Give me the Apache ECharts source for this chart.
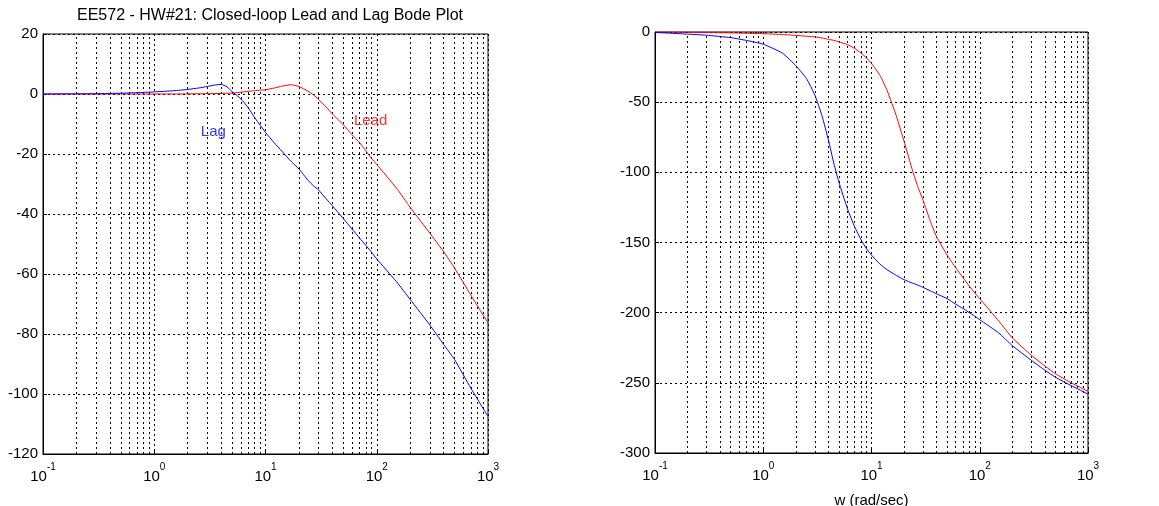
<!DOCTYPE html>
<html>
<head>
<meta charset="utf-8">
<script src="https://cdn.jsdelivr.net/npm/echarts@6/dist/echarts.min.js"></script>
<style>
  html, body { margin: 0; padding: 0; background: #fff; }
  #main { width: 1159px; height: 506px; }
</style>
</head>
<body>
<div id="main"></div>
<script>
// frequencies (rad/sec) the curves were read at
var freq = [0.1, 0.2, 0.3, 0.5, 0.7, 1, 1.5, 2, 2.5, 3, 3.5, 4, 4.5, 5, 6, 7, 8, 9, 10,
            12, 14, 17, 20, 24, 27, 30, 35, 40, 50, 60, 70, 80, 90, 100,
            150, 200, 300, 400, 500, 700, 1000];

// magnitude (dB)
var magLag  = [0, 0.05, 0.1, 0.25, 0.45, 0.7, 1.1, 1.5, 2.0, 2.5, 3.0, 3.2, 2.4, 0.8, -1.6, -4.6, -7.9, -10.5, -12.8,
               -16.3, -19, -22.5, -25, -28.7, -30.6, -32, -34.9, -37.3, -41.5, -45, -48, -50.5, -52.8, -55,
               -62.5, -68.5, -77, -83.5, -88.5, -98, -107.5];
var magLead = [0, 0, 0, 0, 0, 0, 0, 0.05, 0.08, 0.1, 0.15, 0.2, 0.25, 0.3, 0.6, 0.9, 1.1, 1.3, 1.4,
               2.0, 2.6, 3.1, 2.5, 1.0, -0.3, -1.8, -4.3, -6.7, -10.2, -13.6, -16.2, -19, -21.5, -23.5,
               -31.3, -37.8, -46.4, -52.6, -58, -67, -76.3];

// phase (deg)
var phaseLag  = [-0.3, -1.5, -2.3, -4, -6, -8.7, -15, -24, -33, -45, -60, -77, -94, -107, -126, -139, -148, -154.5, -159,
                 -165.5, -169.5, -173.5, -176.5, -179, -180.5, -182, -184.5, -186.6, -190, -194, -197, -200, -202.5, -205,
                 -214.5, -223.5, -234, -241, -246, -252, -258];
var phaseLead = [0, -0.2, -0.4, -0.6, -0.9, -1.2, -1.8, -2.4, -3, -3.5, -4.3, -5.2, -6, -7, -9, -11.8, -15, -18.5, -22.4,
                 -31, -42, -60, -78, -99, -111, -120, -135, -146, -159, -168, -175, -181, -186, -190,
                 -206, -218, -230.4, -238, -243.5, -250, -256];

// axis ticks
var magTicks   = { min: -120, max: 20, step: 20 };
var phaseTicks = { min: -300, max: 0, step: 50 };
var decades = [0.1, 1, 10, 100];

// text labels on the magnitude plot [w, dB]
var lagLabelPos  = [3.4, -12.5];
var leadLabelPos = [88, -8.8];

var minorLines = [];
decades.forEach(function (d) {
  for (var k = 2; k <= 9; k++) minorLines.push({ xAxis: +(d * k).toPrecision(3) });
});

function pairs(ys) {
  return freq.map(function (w, i) { return [w, ys[i]]; });
}

var FONT = 'Liberation Sans';
var dotted = { color: '#000', width: 1, type: [2, 3] };

function xAxisCfg(gridIndex, name) {
  return {
    type: 'log', logBase: 10, gridIndex: gridIndex, min: 0.1, max: 1000,
    name: name || '', nameLocation: 'middle', nameGap: 40,
    nameTextStyle: { color: '#000', fontSize: 15, fontFamily: FONT },
    axisLine: { show: true, onZero: false, lineStyle: { color: '#000', width: 1 } },
    axisTick: { show: true, inside: true, length: 4, lineStyle: { color: '#000' } },
    splitLine: { show: true, lineStyle: dotted },
    axisLabel: {
      color: '#000', margin: 8,
      formatter: function (v) {
        return '{b|10}{s|' + Math.round(Math.log10(v)) + '}';
      },
      rich: {
        b: { fontSize: 15, fontFamily: FONT, color: '#000', verticalAlign: 'bottom', lineHeight: 22 },
        s: { fontSize: 10, fontFamily: FONT, color: '#000', verticalAlign: 'top', lineHeight: 22, padding: [0, 0, 8, 0] }
      }
    }
  };
}

function yAxisCfg(gridIndex, t) {
  return {
    type: 'value', gridIndex: gridIndex, min: t.min, max: t.max, interval: t.step,
    axisLine: { show: true, onZero: false, lineStyle: { color: '#000', width: 1 } },
    axisTick: { show: true, inside: true, length: 4, lineStyle: { color: '#000' } },
    splitLine: { show: true, lineStyle: dotted },
    axisLabel: { color: '#000', fontSize: 15, fontFamily: FONT, margin: 5 }
  };
}

function curve(xi, data, color) {
  return {
    type: 'line', xAxisIndex: xi, yAxisIndex: xi, data: data,
    showSymbol: false, symbol: 'none', smooth: 0.15, silent: true,
    lineStyle: { color: color, width: 1 }, z: 5
  };
}

function minorGrid(xi) {
  return {
    type: 'line', xAxisIndex: xi, yAxisIndex: xi, data: [], silent: true,
    markLine: {
      silent: true, symbol: 'none', label: { show: false },
      lineStyle: dotted, emphasis: { disabled: true },
      animation: false, data: minorLines
    }
  };
}

function textMark(xi, pos, text, color) {
  return {
    type: 'scatter', xAxisIndex: xi, yAxisIndex: xi, data: [pos],
    symbolSize: 1, itemStyle: { color: 'rgba(0,0,0,0)' }, silent: true, z: 6,
    label: { show: true, position: 'inside', formatter: text, color: color, fontSize: 15, fontFamily: FONT }
  };
}

var chart = echarts.init(document.getElementById('main'), null, { renderer: 'canvas' });
chart.setOption({
  backgroundColor: '#fff',
  animation: false,
  title: {
    text: 'EE572 - HW#21: Closed-loop Lead and Lag Bode Plot',
    left: 265, top: 3, textAlign: 'center',
    textStyle: { color: '#000', fontSize: 16, fontWeight: 'normal', fontFamily: FONT }
  },
  grid: [
    { left: 43, right: 671, top: 34, bottom: 52, outerBoundsMode: 'none',
      show: true, borderColor: '#000', borderWidth: 1, backgroundColor: '#fff' },
    { left: 655, right: 71, top: 32, bottom: 53, outerBoundsMode: 'none',
      show: true, borderColor: '#000', borderWidth: 1, backgroundColor: '#fff' }
  ],
  xAxis: [xAxisCfg(0), xAxisCfg(1, 'w (rad/sec)')],
  yAxis: [yAxisCfg(0, magTicks), yAxisCfg(1, phaseTicks)],
  series: [
    minorGrid(0),
    minorGrid(1),
    curve(0, pairs(magLead), '#ff0000'),
    curve(0, pairs(magLag), '#0000ff'),
    curve(1, pairs(phaseLead), '#ff0000'),
    curve(1, pairs(phaseLag), '#0000ff'),
    textMark(0, lagLabelPos, 'Lag', '#0000ff'),
    textMark(0, leadLabelPos, 'Lead', '#ff0000')
  ]
});
</script>
</body>
</html>
